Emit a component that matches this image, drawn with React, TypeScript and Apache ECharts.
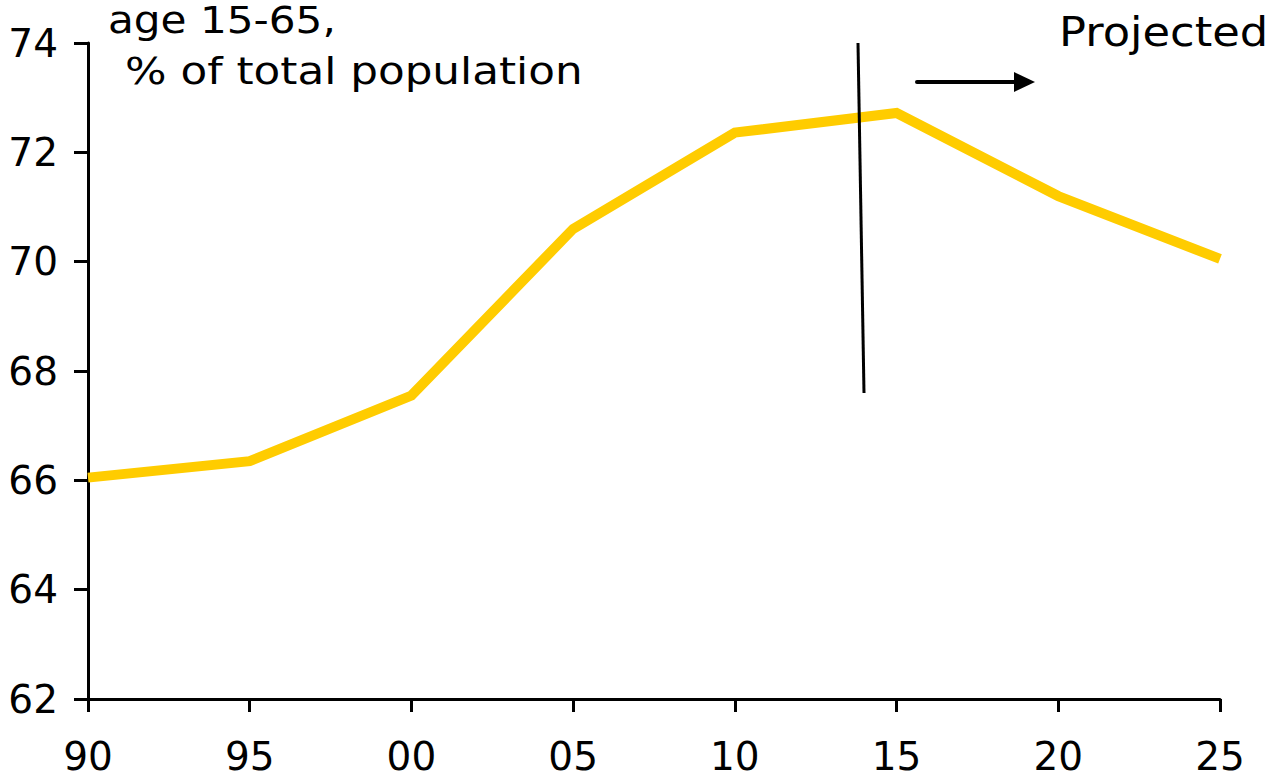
import React, { useEffect, useRef } from "react";
import * as echarts from "echarts";

// Working-age share of the population, by year (two-digit labels)
const years = ["90", "95", "00", "05", "10", "15", "20", "25"];
const workingAgeShare = [66.05, 66.35, 67.55, 70.6, 72.36, 72.72, 71.2, 70.05];
const yMin = 62;
const yMax = 74;
const yStep = 2;

const titleLines = ["age 15-65,", "% of total population"];
const projectedLabel = "Projected";

const FONT = "DejaVu Sans";

export default function App() {
  const ref = useRef<HTMLDivElement>(null);

  useEffect(() => {
    document.body.style.margin = "0";
    if (!ref.current) return;
    const chart = echarts.init(ref.current, null, { renderer: "svg" });
    chart.setOption({
      animation: false,
      backgroundColor: "#ffffff",
      grid: { left: 88, right: 52, top: 43, bottom: 79, containLabel: false },
      xAxis: {
        type: "category",
        data: years,
        boundaryGap: false,
        axisLine: { lineStyle: { color: "#000", width: 3 } },
        axisTick: { alignWithLabel: true, length: 13, lineStyle: { color: "#000", width: 3 } },
        axisLabel: { color: "#000", fontSize: 39, fontFamily: FONT, margin: 38 },
        splitLine: { show: false },
      },
      yAxis: {
        type: "value",
        min: yMin,
        max: yMax,
        interval: yStep,
        axisLine: { show: true, lineStyle: { color: "#000", width: 3 } },
        axisTick: { show: true, length: 14, lineStyle: { color: "#000", width: 3 } },
        axisLabel: { color: "#000", fontSize: 39, fontFamily: FONT, margin: 30 },
        splitLine: { show: false },
      },
      series: [
        {
          type: "line",
          data: workingAgeShare,
          symbol: "none",
          lineStyle: { color: "#FFCC00", width: 10, join: "miter" },
          z: 3,
        },
      ],
      graphic: [
        {
          type: "text",
          x: 108,
          y: 20,
          scaleX: 1.14,
          style: {
            text: titleLines[0],
            font: `37px ${FONT}`,
            fill: "#000",
            align: "left",
            verticalAlign: "middle",
          },
        },
        {
          type: "text",
          x: 125,
          y: 71,
          scaleX: 1.15,
          style: {
            text: titleLines[1],
            font: `38px ${FONT}`,
            fill: "#000",
            align: "left",
            verticalAlign: "middle",
          },
        },
        {
          type: "text",
          x: 1059,
          y: 32,
          scaleX: 1.12,
          style: {
            text: projectedLabel,
            font: `40px ${FONT}`,
            fill: "#000",
            align: "left",
            verticalAlign: "middle",
          },
        },
        {
          type: "line",
          shape: { x1: 858, y1: 43, x2: 864, y2: 393 },
          style: { stroke: "#000", lineWidth: 3 },
          z: 10,
        },
        {
          type: "line",
          shape: { x1: 917, y1: 82, x2: 1016, y2: 82 },
          style: { stroke: "#000", lineWidth: 4, lineCap: "round" },
          z: 10,
        },
        {
          type: "polygon",
          shape: { points: [[1014, 72], [1035, 82], [1014, 92]] },
          style: { fill: "#000" },
          z: 10,
        },
      ],
    });
    return () => chart.dispose();
  }, []);

  return <div ref={ref} style={{ width: 1272, height: 778 }} />;
}
